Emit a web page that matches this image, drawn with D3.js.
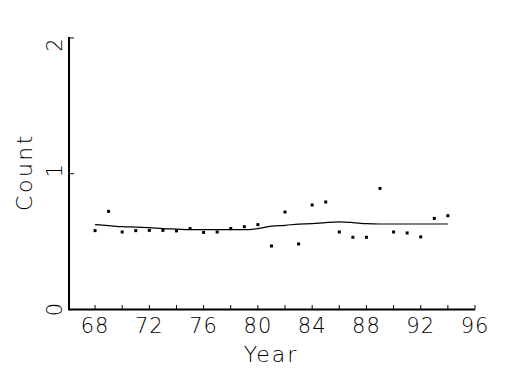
<!DOCTYPE html>
<html><head><meta charset="utf-8">
<script src="https://cdn.jsdelivr.net/npm/d3@7"></script>
<style>
html,body{margin:0;padding:0;background:#fff;}
text{font-family:"DejaVu Sans",sans-serif;font-weight:200;fill:#000;}
</style></head>
<body>
<svg id="chart" width="525" height="375"></svg>
<script>
const years = [68,69,70,71,72,73,74,75,76,77,78,79,80,81,82,83,84,85,86,87,88,89,90,91,92,93,94];
const counts = [0.581,0.723,0.571,0.581,0.583,0.583,0.579,0.596,0.568,0.571,0.596,0.610,0.625,0.468,0.718,0.483,0.770,0.792,0.571,0.532,0.532,0.892,0.571,0.564,0.535,0.671,0.691];
const smooth = [0.625,0.618,0.610,0.607,0.603,0.596,0.592,0.588,0.588,0.588,0.588,0.588,0.596,0.614,0.620,0.629,0.632,0.640,0.645,0.640,0.632,0.630,0.630,0.630,0.630,0.630,0.630];
const xTicks = [68,70,72,74,76,78,80,82,84,86,88,90,92,94,96];
const xLabels = [68,72,76,80,84,88,92,96];
const yTicks = [0,1,2];

const svg = d3.select("#chart");
const x = d3.scaleLinear().domain([66.08,96]).range([69,475]);
const y = d3.scaleLinear().domain([0,2]).range([309.5,38]);

// axes lines
svg.append("line").attr("x1",x(66.08)).attr("x2",x(96)).attr("y1",y(0)).attr("y2",y(0))
  .attr("stroke","#000").attr("stroke-width",2);
svg.append("line").attr("x1",x(66.08)).attr("x2",x(66.08)).attr("y1",y(0)+1).attr("y2",y(2)-1)
  .attr("stroke","#000").attr("stroke-width",2);

// x ticks
svg.selectAll(".xt").data(xTicks).enter().append("line")
  .attr("x1",d=>x(d)).attr("x2",d=>x(d)).attr("y1",y(0)).attr("y2",y(0)-4.5)
  .attr("stroke","#000").attr("stroke-width",1);
svg.selectAll(".xl").data(xLabels).enter().append("text")
  .attr("x",d=>x(d)).attr("y",333).attr("text-anchor","middle")
  .attr("font-size",21).attr("letter-spacing",1).text(d=>d);

// y ticks
svg.selectAll(".yt").data(yTicks).enter().append("line")
  .attr("x1",x(66.08)).attr("x2",x(66.08)+5).attr("y1",d=>y(d)).attr("y2",d=>y(d))
  .attr("stroke","#000").attr("stroke-width",1);
svg.selectAll(".yl").data(yTicks).enter().append("text")
  .attr("transform",d=>`translate(62,${y(d)+(d===2?7:(d===1?-3:0))}) rotate(-90)`)
  .attr("text-anchor","middle").attr("font-size",21).text(d=>d);

// axis titles
svg.append("text").attr("x",271).attr("y",361.5).attr("text-anchor","middle")
  .attr("font-size",22).attr("letter-spacing",2).text("Year");
svg.append("text").attr("transform","translate(32,172) rotate(-90)")
  .attr("text-anchor","middle").attr("font-size",22).attr("letter-spacing",2.5).text("Count");

// smooth line
const line = d3.line().x((d,i)=>x(years[i])).y(d=>y(d)).curve(d3.curveMonotoneX);
svg.append("path").datum(smooth).attr("d",line).attr("fill","none")
  .attr("stroke","#000").attr("stroke-width",1.2);

// points
svg.selectAll(".pt").data(counts).enter().append("rect")
  .attr("x",(d,i)=>x(years[i])-1.5).attr("y",d=>y(d)-1.5)
  .attr("width",3).attr("height",3).attr("fill","#000");
</script>
</body></html>
